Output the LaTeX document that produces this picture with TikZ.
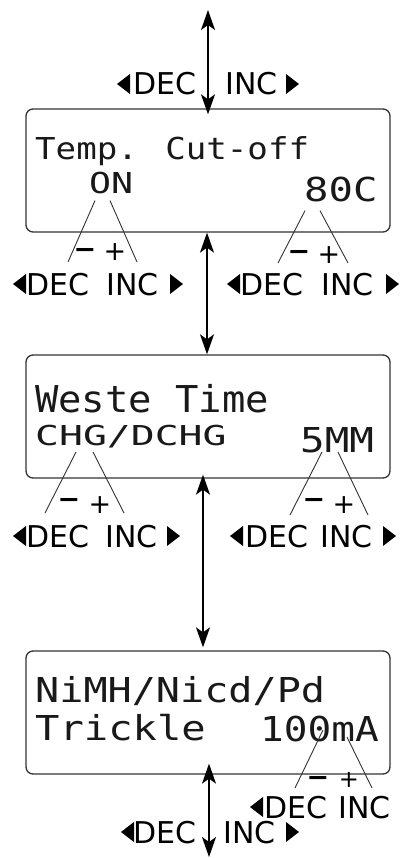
\documentclass[tikz,border=0pt]{standalone}
\usepackage{fontspec}
\setmainfont{DejaVu Sans}
\newfontfamily\lcdfont{DejaVu Sans Mono}
\usetikzlibrary{arrows.meta}
\newcommand\lcd[3]{\fontsize{#1}{#1}\selectfont\scalebox{#2}[1]{#3}}
\newcommand\tril[2]{\fill[black] (#1,#2-10) -- (#1,#2+10) -- (#1-13,#2) -- cycle;}
\newcommand\trir[2]{\fill[black] (#1,#2-10) -- (#1,#2+10) -- (#1+13,#2) -- cycle;}
\tikzset{
  lcdbox/.style={draw=black!80, line width=1.3pt, rounded corners=7pt, minimum width=364pt, minimum height=123pt, inner sep=0pt},
  lcdtext/.style={anchor=base west, inner sep=0pt, font=\lcdfont, text=black!90},
  keylabel/.style={anchor=base west, inner sep=0pt, font=\fontsize{30}{30}\selectfont, text=black},
  sign/.style={inner sep=0pt, font=\fontsize{27}{27}\selectfont, text=black},
  arr/.style={line width=1.5pt, {Stealth[length=20pt,width=14pt,inset=5pt]}-{Stealth[length=20pt,width=14pt,inset=5pt]}},
  lead/.style={line width=0.9pt, draw=black!80},
}
\begin{document}
\begin{tikzpicture}[x=1pt,y=-1pt]
\useasboundingbox (0,0) rectangle (400,858);
% boxes
\node[lcdbox] (b1) at (208,170.5) {};
\node[lcdbox] (b2) at (208,416.5) {};
\node[lcdbox] (b3) at (208,712.5) {};
% LCD texts
\node[lcdtext] (t1) at (35,160) {\lcd{30.2}{1.13}{Temp. Cut-off}};
\node[lcdtext] (on) at (89,194) {\lcd{28.8}{1.27}{ON}};
\node[lcdtext] (v80) at (304,202) {\lcd{33}{1.23}{80C}};
\node[lcdtext] (t2) at (35,412) {\lcd{37}{1.05}{Weste Time}};
\node[lcdtext] (chg) at (35,445) {\lcd{27.4}{1.45}{CHG/DCHG}};
\node[lcdtext] (v5) at (300,452) {\lcd{34.3}{1.19}{5MM}};
\node[lcdtext] (t3) at (35,702) {\lcd{34.3}{1.17}{NiMH/Nicd/Pd}};
\node[lcdtext] (tr) at (35,740) {\lcd{34.3}{1.18}{Trickle}};
\node[lcdtext] (v100) at (260,741) {\lcd{34.3}{1.15}{100mA}};
% vertical arrows
\coordinate (top) at (208,10);
\coordinate (bot) at (209,857);
\draw[arr, shorten >=-6pt] (top) -- (b1.north);
\draw[arr] ([xshift=-1pt]b1.south) -- ([xshift=-1pt]b2.north);
\draw[arr, shorten <=-4pt, shorten >=3pt] ([xshift=-5pt]b2.south) -- ([xshift=-5pt]b3.north);
\draw[arr, shorten <=-11pt] ([xshift=1pt]b3.south) -- (bot);
% top labels
\node[keylabel] (dec0) at (133,95) {DEC};
\node[keylabel] (inc0) at (225,95) {INC};
\tril{130}{84}
\trir{286}{84}
% box 1 left
\coordinate (l1a) at (68,262); \coordinate (l1b) at (137,262);
\draw[lead] ([shift={(6,6)}]on.south west) -- (l1a);
\draw[lead] ([shift={(21,6)}]on.south west) -- (l1b);
\node[sign] (m1) at (85,253) {\textbf{−}};
\node[sign] (p1) at (115,252) {+};
\node[keylabel] (dec1) at (26,295) {DEC};
\node[keylabel] (inc1) at (106,295) {INC};
\tril{26}{284}
\trir{170}{284}
% box 1 right
\coordinate (r1a) at (278,263); \coordinate (r1b) at (348,263);
\draw[lead] ([shift={(1,8)}]v80.south west) -- (r1a);
\draw[lead] ([shift={(16,8)}]v80.south west) -- (r1b);
\node[sign] (m2) at (299,255) {\textbf{−}};
\node[sign] (p2) at (329,255) {+};
\node[keylabel] (dec2) at (240,295) {DEC};
\node[keylabel] (inc2) at (321,295) {INC};
\tril{240}{284}
\trir{386}{284}
% box 2 left
\coordinate (l2a) at (45,513); \coordinate (l2b) at (124,513);
\draw[lead] (76,452) -- (l2a);
\draw[lead] (93,452) -- (l2b);
\node[sign] (m3) at (69,503) {\textbf{−}};
\node[sign] (p3) at (100,505) {+};
\node[keylabel] (dec3) at (26,547) {DEC};
\node[keylabel] (inc3) at (105,547) {INC};
\tril{26}{536}
\trir{167}{536}
% box 2 right
\coordinate (r2a) at (290,515); \coordinate (r2b) at (368,515);
\draw[lead] (322,452) -- (r2a);
\draw[lead] (338,452) -- (r2b);
\node[sign] (m4) at (314,503) {\textbf{−}};
\node[sign] (p4) at (344,505) {+};
\node[keylabel] (dec4) at (245,547) {DEC};
\node[keylabel] (inc4) at (320,547) {INC};
\tril{243}{536}
\trir{383}{536}
% box 3
\coordinate (r3a) at (295,788); \coordinate (r3b) at (372,788);
\draw[lead] (323,730) -- (r3a);
\draw[lead] (347,737) -- (r3b);
\node[sign] (m5) at (318,781) {\textbf{−}};
\node[sign, font=\fontsize{24}{24}\selectfont] (p5) at (349,780) {+};
\node[keylabel] (dec5) at (264,818) {DEC};
\node[keylabel] (inc5) at (338,818) {INC};
\tril{263}{807}
% bottom labels
\node[keylabel] (dec6) at (133,843) {DEC};
\node[keylabel] (inc6) at (223,843) {INC};
\tril{134}{832}
\trir{286}{832}
\end{tikzpicture}
\end{document}
